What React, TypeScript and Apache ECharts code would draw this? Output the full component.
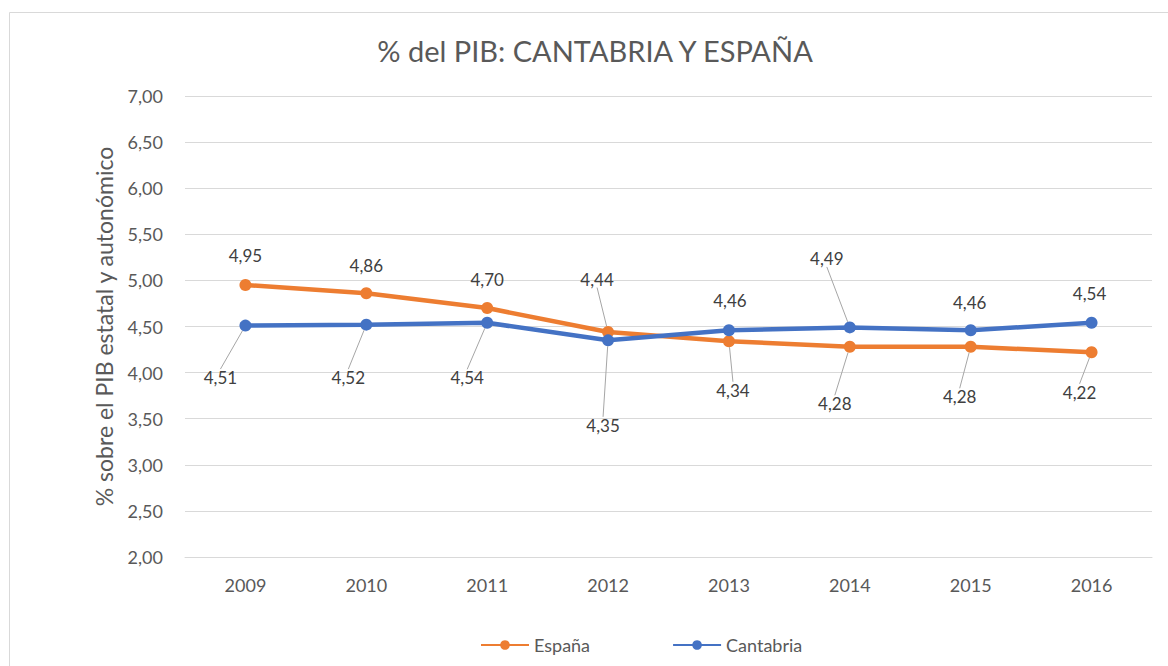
import React, { useEffect, useRef } from 'react';
import * as echarts from 'echarts';

const years = ['2009', '2010', '2011', '2012', '2013', '2014', '2015', '2016'];
const espana = [4.95, 4.86, 4.7, 4.44, 4.34, 4.28, 4.28, 4.22];
const cantabria = [4.51, 4.52, 4.54, 4.35, 4.46, 4.49, 4.46, 4.54];
const yTicks = { min: 2, max: 7, interval: 0.5 };

// label offsets (dx, dy) from each point, and whether a leader line is shown
const espanaLabelOffsets = [[0, -30], [0, -28], [0, -29], [-11, -53], [4, 49], [-15, 57], [-11, 50], [-12, 40]];
const cantabriaLabelOffsets = [[-25, 52], [-18, 53], [-20, 55], [-5, 85], [1, -30], [-23, -69], [-1, -28], [-2, -29]];
const espanaLeaders = [false, false, false, true, true, true, true, true];
const cantabriaLeaders = [true, true, true, true, false, true, false, false];

const FONT = 'Lato, "Open Sans", sans-serif';
const fmt = (v: number) => v.toFixed(2).replace('.', ',');

function makeSeries(name: string, values: number[], color: string, offsets: number[][], leaders: boolean[]) {
  return {
    name,
    type: 'line',
    data: values.map((v, i) => ({ value: v, labelLine: { show: leaders[i] } })),
    symbol: 'circle',
    symbolSize: 12,
    lineStyle: { width: 4.5, color },
    itemStyle: { color },
    label: {
      show: true,
      position: 'inside',
      formatter: (p: any) => fmt(p.value),
      color: '#404040',
      fontSize: 17,
      fontFamily: FONT,
    },
    labelLine: { show: true, lineStyle: { color: '#a6a6a6', width: 1 } },
    labelLayout: (p: any) => ({ dx: offsets[p.dataIndex][0], dy: offsets[p.dataIndex][1] }),
  };
}

export default function App() {
  const ref = useRef<HTMLDivElement>(null);
  useEffect(() => {
    document.body.style.margin = '0';
    const chart = echarts.init(ref.current!, undefined, { renderer: 'svg' });
    chart.setOption({
      animation: false,
      backgroundColor: '#ffffff',
      textStyle: { fontFamily: FONT },
      graphic: [
        {
          type: 'rect',
          shape: { x: 9.5, y: 12.5, width: 1200, height: 700 },
          style: { fill: 'none', stroke: '#d9d9d9', lineWidth: 1 },
          silent: true,
        },
      ],
      title: {
        text: '% del PIB: CANTABRIA Y ESPAÑA',
        left: 590,
        textAlign: 'center',
        top: 31,
        textStyle: { fontFamily: FONT, fontSize: 29, fontWeight: 'normal', color: '#595959' },
      },
      legend: {
        left: 475,
        top: 631,
        itemWidth: 48,
        itemHeight: 12,
        itemGap: 82,
        textStyle: { fontFamily: FONT, fontSize: 18, color: '#595959' },
        data: ['España', 'Cantabria'],
      },
      grid: { left: 185, right: 16, top: 96, bottom: 109 },
      xAxis: {
        type: 'category',
        data: years,
        boundaryGap: true,
        axisTick: { show: false },
        axisLine: { lineStyle: { color: '#d9d9d9' } },
        axisLabel: { color: '#595959', fontSize: 18, fontFamily: FONT, margin: 19 },
      },
      yAxis: {
        type: 'value',
        min: yTicks.min,
        max: yTicks.max,
        interval: yTicks.interval,
        name: '% sobre el PIB estatal y autonómico',
        nameLocation: 'middle',
        nameGap: 70,
        nameTextStyle: { color: '#595959', fontSize: 23, fontFamily: FONT },
        axisLine: { show: false },
        axisTick: { show: false },
        splitLine: { lineStyle: { color: '#d9d9d9' } },
        axisLabel: { color: '#595959', fontSize: 18, fontFamily: FONT, margin: 22, formatter: (v: number) => fmt(v) },
      },
      series: [
        makeSeries('España', espana, '#ED7D31', espanaLabelOffsets, espanaLeaders),
        makeSeries('Cantabria', cantabria, '#4472C4', cantabriaLabelOffsets, cantabriaLeaders),
      ],
    });
    return () => chart.dispose();
  }, []);
  return <div ref={ref} style={{ width: 1168, height: 666 }} />;
}
